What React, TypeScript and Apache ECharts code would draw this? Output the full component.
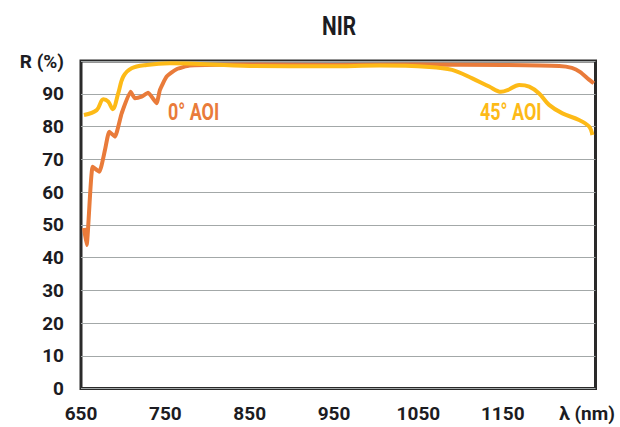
import React, { useEffect, useRef } from "react";
import * as echarts from "echarts";

const FONT = "Roboto, 'Liberation Sans', sans-serif";

const yTicks = [0, 10, 20, 30, 40, 50, 60, 70, 80, 90, 100];
const xTicks = [650, 750, 850, 950, 1050, 1150, 1250];

// 0° AOI  [wavelength nm, R %]
const aoi0: [number, number][] = [
  [653.5, 49], [656.7, 43.8], [663.8, 67.7], [671.7, 66.2], [678.4, 72.8],
  [683.5, 78.4], [690.2, 76.9], [698.2, 84], [708.8, 90.6], [713.9, 88.6],
  [721.8, 89.1], [729.6, 90.3], [739.6, 87.1], [743.5, 91.1], [751.4, 95.2],
  [763.3, 97.5], [779, 98.6], [850, 98.9], [950, 98.8], [1050, 98.9],
  [1150, 98.8], [1217, 98.5], [1232, 97.9], [1242, 96.6], [1252, 94.4], [1258, 93.2],
];

// 45° AOI
const aoi45: [number, number][] = [
  [653.5, 83.5], [668.6, 85], [676.4, 88.3], [682.3, 87.6], [687.5, 85.3],
  [694.1, 90.1], [700, 95.2], [710, 97.8], [727.8, 98.8], [755.3, 99.3],
  [850, 98.5], [944.7, 98.4], [1003.8, 98.6], [1063, 98.2], [1090, 97.3],
  [1113.9, 94.7], [1134, 92.2], [1147.9, 90.6], [1155.7, 91.1], [1169.5, 92.7],
  [1181.4, 92.2], [1193.2, 90.1], [1205, 86.6], [1220.8, 84], [1240.5, 82],
  [1252.4, 80], [1256.3, 77.4],
];

const ORANGE = "#E97B3A";
const YELLOW = "#FDBA17";
const TEXT = "#1c1c22";

export default function App() {
  const ref = useRef<HTMLDivElement>(null);
  useEffect(() => {
    if (!ref.current) return;
    const chart = echarts.init(ref.current, null, { renderer: "svg" });
    chart.setOption({
      animation: false,
      grid: {
        left: 81,
        right: 24.5,
        top: 61,
        bottom: 38.5,
        show: true,
        borderColor: "#2a2a2a",
        borderWidth: 3,
        backgroundColor: "transparent",
        containLabel: false,
      },
      xAxis: {
        type: "value",
        min: 650,
        max: 1260,
        interval: 100,
        axisLine: { show: false },
        axisTick: { show: false },
        splitLine: { show: false },
        axisLabel: {
          margin: 15,
          fontFamily: FONT,
          fontSize: 19,
          fontWeight: "bold",
          color: TEXT,
          showMaxLabel: false,
          formatter: (v: number) => (v === xTicks[xTicks.length - 1] ? "λ (nm)" : String(v)),
        },
      },
      yAxis: {
        type: "value",
        min: yTicks[0],
        max: yTicks[yTicks.length - 1],
        interval: 10,
        axisLine: { show: false },
        axisTick: { show: false },
        splitLine: { show: true, lineStyle: { color: "#a3a8a8", width: 1 } },
        axisLabel: {
          margin: 17,
          fontFamily: FONT,
          fontSize: 19,
          fontWeight: "bold",
          color: TEXT,
          formatter: (v: number) => (v === 100 ? "R (%)" : String(v)),
        },
      },
      series: [
        {
          name: "0° AOI",
          type: "line",
          data: aoi0,
          showSymbol: false,
          smooth: 0.15,
          lineStyle: { color: ORANGE, width: 4 },
          z: 2,
        },
        {
          name: "45° AOI",
          type: "line",
          data: aoi45,
          showSymbol: false,
          smooth: 0.35,
          lineStyle: { color: YELLOW, width: 4 },
          z: 3,
        },
      ],
      graphic: [
        {
          type: "text",
          x: 339,
          y: 26,
          scaleX: 0.8,
          style: {
            text: "NIR",
            fill: TEXT,
            font: `bold 26px ${FONT}`,
            align: "center",
            verticalAlign: "middle",
          },
        },
        {
          type: "text",
          x: 168,
          y: 112,
          scaleX: 0.78,
          style: {
            text: "0° AOI",
            fill: ORANGE,
            font: `bold 23px ${FONT}`,
            align: "left",
            verticalAlign: "middle",
          },
        },
        {
          type: "text",
          x: 480,
          y: 112,
          scaleX: 0.78,
          style: {
            text: "45° AOI",
            fill: YELLOW,
            font: `bold 23px ${FONT}`,
            align: "left",
            verticalAlign: "middle",
          },
        },
      ],
    });
    return () => chart.dispose();
  }, []);
  return (
    <div
      ref={ref}
      style={{ position: "fixed", left: 0, top: 0, width: 620, height: 427, background: "#fff" }}
    />
  );
}
